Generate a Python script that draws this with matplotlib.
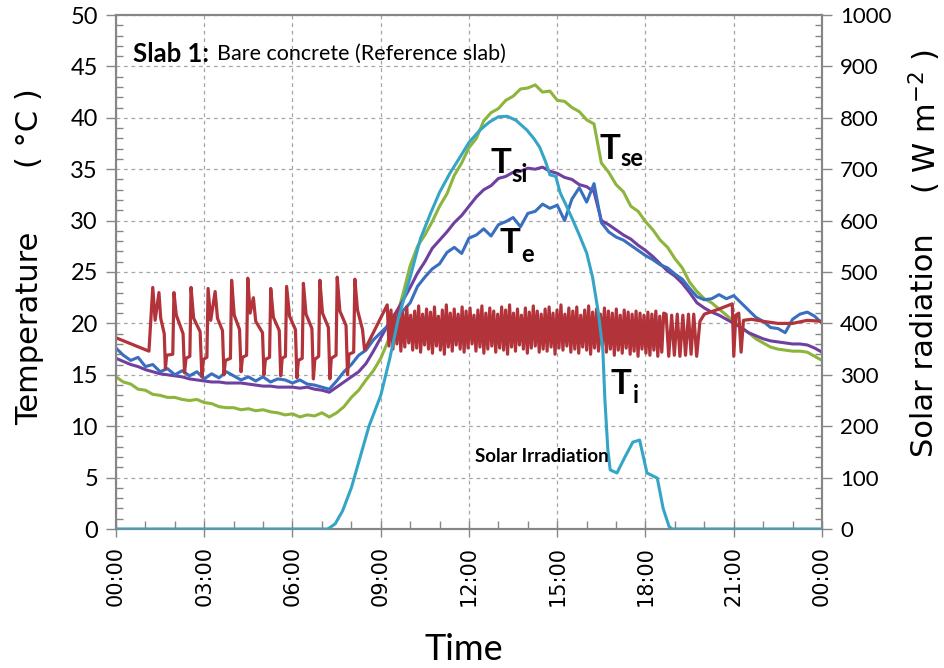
import numpy as np
import matplotlib
matplotlib.use("Agg")
import matplotlib.pyplot as plt
from matplotlib.ticker import MultipleLocator, FixedLocator, FixedFormatter

# ---------------- data ----------------
HOURS = np.arange(0, 24.001, 0.25)

T_SE = [14.8, 14.3, 14.1, 13.6, 13.5, 13.1, 13.0, 12.8, 12.8, 12.6, 12.5, 12.6,
        12.3, 12.2, 11.9, 11.8, 11.8, 11.6, 11.7, 11.5, 11.6, 11.4, 11.3, 11.1,
        11.2, 10.9, 11.1, 11.0, 11.3, 10.9, 11.3, 11.9, 12.8, 13.5, 14.5, 15.4,
        16.6, 18.3, 20.2, 22.8, 25.6, 27.5, 28.6, 29.9, 31.4, 32.6, 34.4, 35.6,
        37.1, 38.0, 39.7, 40.5, 40.9, 41.7, 42.1, 42.8, 42.9, 43.2, 42.5, 42.6,
        41.7, 41.6, 41.0, 40.6, 39.8, 39.4, 35.6, 34.7, 33.5, 32.8, 31.4, 30.9,
        29.9, 29.1, 28.1, 27.4, 26.3, 25.4, 24.0, 23.1, 22.4, 22.0, 21.4, 20.8,
        20.2, 19.6, 19.1, 18.5, 18.1, 17.7, 17.5, 17.4, 17.3, 17.3, 17.2, 16.8,
        16.4]

T_SI = [16.6, 16.3, 16.0, 15.8, 15.5, 15.3, 15.1, 15.0, 14.9, 14.8, 14.6, 14.5,
        14.4, 14.3, 14.3, 14.2, 14.2, 14.2, 14.1, 14.0, 13.9, 13.9, 13.8, 13.8,
        13.8, 13.7, 13.8, 13.6, 13.5, 13.3, 13.8, 14.3, 14.8, 15.3, 16.1, 17.3,
        18.6, 19.9, 21.0, 22.2, 23.5, 24.9, 26.0, 27.3, 28.1, 28.9, 29.8, 30.5,
        31.4, 32.3, 33.0, 33.4, 34.1, 34.3, 34.7, 34.8, 35.1, 35.0, 35.2, 34.8,
        34.6, 34.2, 34.0, 33.5, 33.3, 32.8, 30.0, 29.6, 29.1, 28.6, 28.2, 27.6,
        27.1, 26.5, 25.8, 25.1, 24.6, 23.9, 23.0, 22.0, 21.5, 21.1, 20.8, 20.4,
        20.0, 19.6, 19.1, 18.8, 18.5, 18.3, 18.2, 18.1, 18.0, 18.0, 17.9, 17.6,
        17.2]

T_E = [17.6, 16.9, 16.4, 16.7, 15.8, 16.0, 15.3, 15.6, 15.0, 15.4, 14.9, 15.3,
       14.6, 15.1, 14.7, 15.3, 14.9, 14.5, 14.8, 14.4, 14.8, 14.3, 14.6, 14.5,
       14.2, 14.5, 14.1, 14.0, 13.8, 13.6, 14.4, 15.3, 16.0, 16.9, 17.4, 18.4,
       19.1, 19.8, 20.4, 21.2, 22.0, 23.6, 24.5, 25.3, 25.8, 26.9, 27.4, 26.8,
       28.3, 28.6, 29.2, 28.5, 29.6, 29.9, 30.3, 29.4, 30.7, 30.9, 31.6, 31.2,
       31.5, 30.0, 32.1, 33.2, 31.8, 33.6, 29.8, 28.9, 28.4, 28.1, 27.6, 27.1,
       26.6, 26.2, 25.7, 25.4, 24.8, 24.3, 23.4, 22.6, 22.3, 22.4, 22.8, 22.4,
       22.7, 22.0, 21.3, 20.6, 20.2, 19.6, 19.5, 19.1, 20.4, 20.9, 21.1, 20.7,
       20.0]

# indoor air temperature Ti: night-time heater cycling
TI_PRE_H = [0.0, 1.12, 1.25, 1.33, 1.46, 1.52, 1.64, 1.68, 1.72, 1.93,
            1.97, 2.05, 2.28, 2.33, 2.38, 2.51,
            2.55, 2.64, 2.86, 2.92, 2.97, 3.09,
            3.13, 3.22, 3.37, 3.45, 3.62, 3.67, 3.72, 3.89,
            3.93, 4.02, 4.20, 4.25, 4.30, 4.44,
            4.48, 4.56, 4.67, 4.75, 4.98, 5.03, 5.08, 5.22,
            5.26, 5.35, 5.55, 5.60, 5.65, 5.76,
            5.80, 5.90, 6.10, 6.15, 6.20, 6.33,
            6.37, 6.46, 6.66, 6.71, 6.76, 6.89,
            6.93, 7.02, 7.22, 7.27, 7.32, 7.48,
            7.52, 7.61, 7.82, 7.87, 7.92, 8.08,
            8.12, 8.21, 8.38, 8.45, 9.22]
TI_PRE_V = [18.6, 17.3, 23.5, 20.3, 23.0, 20.5, 19.0, 15.6, 16.9, 17.0,
            23.0, 20.8, 19.0, 15.2, 16.6, 16.8,
            23.5, 20.5, 19.2, 14.8, 16.5, 16.7,
            23.4, 20.3, 23.1, 20.5, 19.3, 15.0, 16.4, 16.6,
            24.2, 20.8, 19.4, 15.3, 16.7, 16.9,
            24.4, 21.0, 22.5, 20.2, 19.1, 15.0, 16.5, 16.7,
            23.4, 20.6, 19.3, 14.9, 16.6, 16.8,
            23.6, 20.7, 19.4, 14.7, 16.4, 16.6,
            23.9, 20.9, 19.5, 14.6, 16.5, 16.8,
            24.2, 21.0, 19.6, 14.6, 16.6, 16.9,
            24.5, 21.2, 19.8, 15.0, 17.0, 17.2,
            24.3, 21.3, 19.4, 17.4, 21.8]

# day-time fast cycling (alternating trough / peak)
TI_OSC_TROUGHS = [17.8, 17.5, 18.0, 17.3, 17.7, 18.1, 17.4, 17.6, 17.2, 17.9,
                  17.5, 17.1, 17.8, 17.4, 17.0, 17.7, 17.3, 17.9, 17.5, 17.2,
                  17.6, 18.0, 17.3, 17.7, 17.1, 17.5, 17.8, 17.2, 17.6, 17.4,
                  17.0, 17.7, 17.3, 17.9, 17.5, 17.1, 17.6, 17.8, 17.2, 17.5,
                  17.3, 17.7, 17.0, 17.6, 17.4, 17.8, 17.2, 17.5, 17.1, 17.7,
                  17.4, 17.0, 17.6, 17.3, 17.8, 17.2, 17.5, 16.9, 17.4, 17.1,
                  17.6, 17.0, 17.3, 16.8, 17.5, 17.1, 16.9, 17.4, 16.8, 17.2]
TI_OSC_PEAKS = [21.3, 20.9, 21.5, 21.0, 21.6, 20.8, 21.2, 21.7, 20.9, 21.4,
                21.1, 21.6, 20.7, 21.3, 21.8, 21.0, 21.4, 20.9, 21.6, 21.2,
                21.5, 20.8, 21.3, 21.7, 21.0, 21.5, 21.2, 20.9, 21.6, 21.3,
                21.8, 21.0, 21.4, 20.8, 21.5, 21.1, 21.7, 21.2, 20.9, 21.4,
                21.6, 21.0, 21.3, 21.8, 20.9, 21.5, 21.2, 21.6, 20.8, 21.3,
                21.7, 21.1, 21.4, 20.9, 21.5, 21.2, 21.0, 21.4, 20.8, 21.3,
                21.1, 20.9, 21.2, 21.0, 20.8, 21.1, 20.9, 21.2, 20.7, 21.0]
TI_OSC_START, TI_OSC_END = 9.28, 18.62

TI_POST_H = [18.70, 18.79, 18.89, 18.98, 19.08, 19.17, 19.27, 19.36, 19.46,
             19.55, 19.64, 19.74, 19.85, 20.0, 20.5, 20.95, 21.0, 21.07, 21.17,
             21.25, 21.33, 21.6, 22.0, 22.5, 23.0, 23.5, 24.0]
TI_POST_V = [20.9, 16.8, 20.8, 16.9, 20.9, 16.8, 20.8, 16.9, 20.9,
             17.0, 20.9, 16.8, 20.2, 20.9, 21.4, 21.9, 16.8, 20.8, 21.0,
             17.2, 20.3, 20.4, 20.2, 20.0, 20.0, 20.3, 20.2]

SOLAR_H = [0, 7.2, 7.45, 7.7, 8.0, 8.3, 8.6, 9.0, 9.3, 9.6, 10.0, 10.35, 10.7,
           11.0, 11.35, 11.7, 12.0, 12.37, 12.7, 13.0, 13.3, 13.6, 13.97, 14.2,
           14.4, 14.6, 14.75, 14.95, 15.1, 15.3, 15.53, 15.75, 16.0, 16.2, 16.4,
           16.55, 16.62, 16.72, 16.8, 17.03, 17.3, 17.57, 17.8, 18.05, 18.4,
           18.6, 18.8, 18.9, 24]
SOLAR_V = [0, 0, 10, 35, 80, 140, 200, 260, 330, 410, 490, 565, 615,
           655, 692, 724, 752, 776, 792, 802, 803, 795, 776, 760,
           743, 715, 689, 686, 654, 630, 601, 572, 537, 490, 420,
           348, 251, 154, 115, 109, 140, 169, 173, 109, 99,
           40, 5, 0, 0]

XTICKS = [0, 3, 6, 9, 12, 15, 18, 21, 24]
XTICK_LABELS = ["00:00", "03:00", "06:00", "09:00", "12:00", "15:00",
                "18:00", "21:00", "00:00"]

# ---------------- build Ti series ----------------
osc_t = np.linspace(TI_OSC_START, TI_OSC_END, 2 * len(TI_OSC_PEAKS))
osc_v = np.empty(2 * len(TI_OSC_PEAKS))
osc_v[0::2] = TI_OSC_TROUGHS
osc_v[1::2] = TI_OSC_PEAKS
ti_h = np.concatenate([TI_PRE_H, osc_t, TI_POST_H])
ti_v = np.concatenate([TI_PRE_V, osc_v, TI_POST_V])

# ---------------- colours ----------------
C_SE = "#8db43c"
C_SI = "#7040a0"
C_E = "#3a6fbf"
C_I = "#b23339"
C_SOL = "#34a5c6"
GRID = "#a6a6a6"
SPINE = "#868686"

W, H = 945, 668
fig = plt.figure(figsize=(W / 100, H / 100), dpi=100)
ax = fig.add_axes([116 / W, 1 - 529 / H, (822 - 116) / W, (529 - 15) / H])
ax2 = ax.twinx()

lw = 2.2
ax.plot(HOURS, T_SE, color=C_SE, lw=lw, zorder=3)
ax.plot(HOURS, T_SI, color=C_SI, lw=lw, zorder=4)
ax.plot(HOURS, T_E, color=C_E, lw=lw, zorder=5)
ax.plot(ti_h, ti_v, color=C_I, lw=2.3, zorder=6)
ax2.plot(SOLAR_H, SOLAR_V, color=C_SOL, lw=lw, zorder=7)

ax.set_xlim(0, 24)
ax.set_ylim(0, 50)
ax2.set_ylim(0, 1000)

ax.xaxis.set_major_locator(FixedLocator(XTICKS))
ax.xaxis.set_major_formatter(FixedFormatter(XTICK_LABELS))
ax.xaxis.set_minor_locator(MultipleLocator(1))
ax.yaxis.set_major_locator(MultipleLocator(5))
ax.yaxis.set_minor_locator(MultipleLocator(1))
ax2.yaxis.set_major_locator(MultipleLocator(100))
ax2.yaxis.set_minor_locator(MultipleLocator(20))

ax.grid(True, which="major", linestyle=(0, (3, 3)), color=GRID, linewidth=0.9)
ax.set_axisbelow(True)

for a in (ax, ax2):
    for s in a.spines.values():
        s.set_color(SPINE)
        s.set_linewidth(1.5)

ax.tick_params(axis="y", which="major", direction="out", length=7, width=1,
               color=SPINE, labelsize=17, labelfontfamily="Lato", pad=6)
ax.tick_params(axis="y", which="minor", direction="in", length=5, width=1,
               color=SPINE)
ax2.tick_params(axis="y", which="major", direction="out", length=7, width=1,
                color=SPINE, labelsize=16, labelfontfamily="Lato", pad=6)
ax2.tick_params(axis="y", which="minor", direction="in", length=5, width=1,
                color=SPINE)
ax.tick_params(axis="x", which="major", direction="inout", length=12, width=1,
               color=SPINE, labelsize=15, labelrotation=90, pad=6)
ax.tick_params(axis="x", which="minor", direction="in", length=6, width=1,
               color=SPINE)

# axis titles
fig.text(30 / W, 1 - 328 / H, "Temperature", rotation=90, ha="center",
         va="center", fontsize=22, family="DejaVu Sans")
fig.text(30 / W, 1 - 128 / H, "( °C )", rotation=90, ha="center",
         va="center", fontsize=22, family="DejaVu Sans")
fig.text(925 / W, 1 - 345 / H, "Solar radiation", rotation=90, ha="center",
         va="center", fontsize=22, family="DejaVu Sans")
fig.text(925 / W, 1 - 122 / H, "( W m$^{-2}$ )", rotation=90, ha="center",
         va="center", fontsize=22, family="DejaVu Sans")
fig.text(464 / W, 1 - 650 / H, "Time", ha="center", va="center",
         fontsize=26, family="Lato")

# title inside plot
ax.text(0.024, 0.925, "Slab 1:", transform=ax.transAxes, fontsize=18.5,
        fontweight="bold", family="Lato", va="center", ha="left")
ax.text(0.143, 0.925, "Bare concrete (Reference slab)", transform=ax.transAxes,
        fontsize=15.5, family="Lato", va="center", ha="left")

# curve labels
def curve_label(x, y, sub, dx, dy):
    ax.text(x, y, "T", fontsize=25, fontweight="bold", family="Lato",
            ha="left", va="baseline", zorder=10)
    ax.text(x + dx, y + dy, sub, fontsize=17, fontweight="bold",
            family="Lato", ha="left", va="baseline", zorder=10)

curve_label(16.42, 36.0, "se", 0.74, -0.7)
curve_label(12.72, 34.6, "si", 0.74, -0.8)
curve_label(13.05, 26.8, "e", 0.74, -0.8)
curve_label(16.82, 13.1, "i", 0.74, -0.8)

ax2.text(12.2, 6.5 / 50 * 1000, "Solar Irradiation", fontsize=13.5,
         fontweight="bold", family="Lato", ha="left", va="baseline", zorder=10)

fig.savefig("out.png", dpi=100)
